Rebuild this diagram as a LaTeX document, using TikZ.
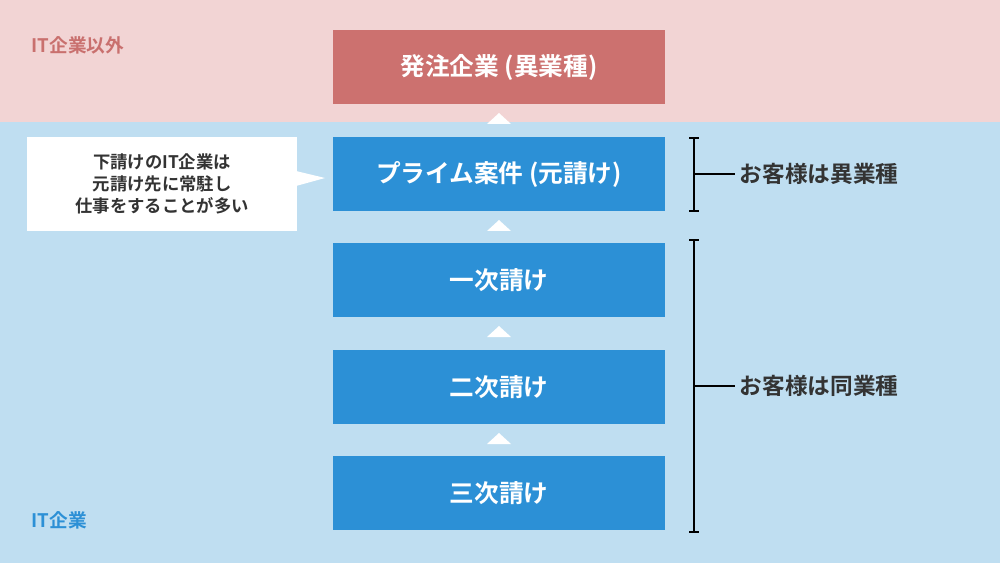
\documentclass[tikz,border=0pt]{standalone}
\usepackage{fontspec}
\setmainfont{Noto Sans CJK JP}[BoldFont={* Bold}]
\definecolor{pinkbg}{HTML}{F2D4D4}
\definecolor{bluebg}{HTML}{BFDEF1}
\definecolor{redbox}{HTML}{CC716F}
\definecolor{bluebox}{HTML}{2C90D6}
\definecolor{redtxt}{HTML}{C9706E}
\definecolor{bluetxt}{HTML}{2C90D6}
\definecolor{dark}{HTML}{333333}
\tikzset{
 stepbox/.style={fill=bluebox,minimum width=249pt,minimum height=55.5pt,text=white,font=\bfseries\fontsize{18.5}{22}\selectfont,inner sep=0},
 tri/.style={fill=white},
 brk/.style={draw=black,line width=1.2pt},
 lbl/.style={text=dark,font=\bfseries\fontsize{17}{20}\selectfont,anchor=west},
}
\begin{document}
\begin{tikzpicture}[x=0.75pt,y=-0.75pt]
\useasboundingbox (0,0) rectangle (1000,563);
\fill[pinkbg] (0,0) rectangle (1000,122);
\fill[bluebg] (0,122) rectangle (1000,563);
\node[anchor=west,text=redtxt,font=\bfseries\fontsize{14}{16}\selectfont] (l1) at (27,45) {IT企業以外};
\node[anchor=west,text=bluetxt,font=\bfseries\fontsize{14}{16}\selectfont] (l2) at (27,520) {IT企業};
\node[stepbox,fill=redbox] (b1) at (499,67) {発注企業 (異業種)};
\node[stepbox] (b2) at (499,174) {プライム案件 (元請け)};
\node[stepbox] (b3) at (499,280) {一次請け};
\node[stepbox] (b4) at (499,387) {二次請け};
\node[stepbox] (b5) at (499,493) {三次請け};
\foreach \y in {124,231,337,444}{\fill[tri] (487,\y) -- (499,\y-11) -- (511,\y) -- cycle;}
% callout
\node[fill=white,minimum width=202pt,minimum height=71pt,inner sep=0,align=center,text=dark,font=\bfseries\fontsize{13}{16.5}\selectfont] (c) at (162,184) {下請けのIT企業は\\元請け先に常駐し\\仕事をすることが多い};
\coordinate (tip) at (325,178);
\fill[white] (296,171) -- (tip) -- (296,186) -- cycle;
% brackets
\draw[brk] (694,138) -- (694,211);
\draw[brk] (689,138) -- (699,138) (689,211) -- (699,211);
\draw[brk] (694,174) -- (735,174);
\node[lbl] (r1) at (735,174) {お客様は異業種};
\draw[brk] (694,240) -- (694,532);
\draw[brk] (689,240) -- (699,240) (689,532) -- (699,532);
\draw[brk] (694,386) -- (735,386);
\node[lbl] (r2) at (735,386) {お客様は同業種};
\end{tikzpicture}
\end{document}
